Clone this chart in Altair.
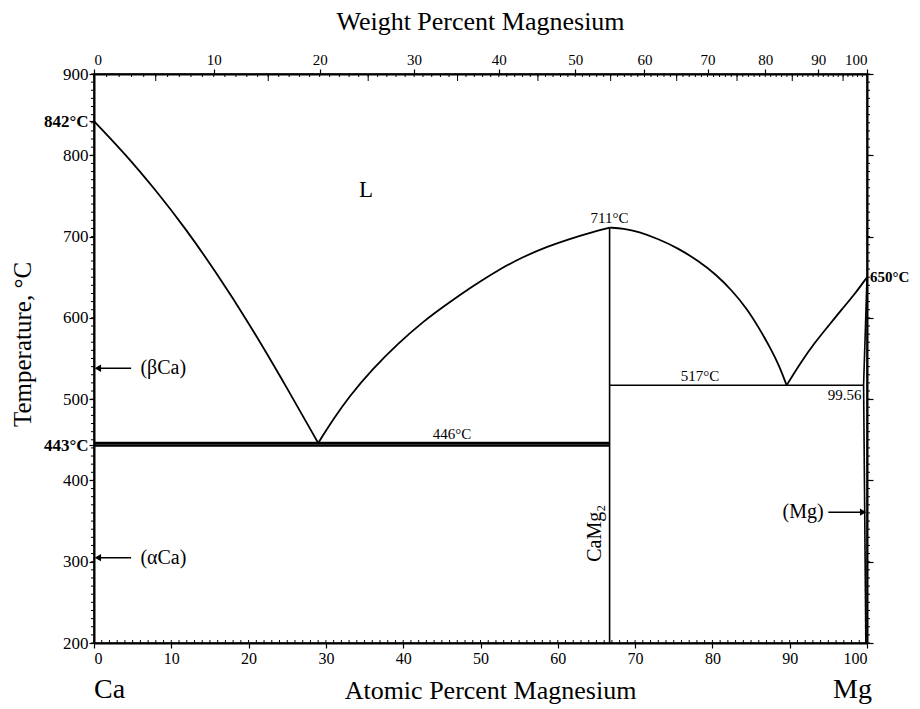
import altair as alt
import pandas as pd

FONT = "Liberation Serif"
W, H = 773, 569

# ---- liquidus branches (atomic % Mg, temperature °C) ----
liq1_a = [0, 4, 8, 12, 16, 20, 24, 29.0]
liq1_t = [842, 802, 757, 708, 653, 594, 530, 446]
liq2_a = [29.0, 31.0, 33.0, 36.0, 39.4, 42.5, 45.8, 49.0, 52.3, 55.5, 58.7, 61.5, 63.9, 66.7]
liq2_t = [446, 476, 503, 537, 569, 595, 618, 639, 659, 675, 688, 697, 704, 711]
liq3_a = [66.7, 68.5, 70.5, 73.0, 75.5, 78.2, 80.5, 82.5, 84.5, 86.0, 87.5, 88.7, 89.6]
liq3_t = [711, 710, 706, 697, 686, 670, 653, 634, 611, 588, 563, 540, 517]
liq4_a = [89.6, 91.5, 93.2, 95.0, 96.7, 98.4, 100]
liq4_t = [517, 546, 569, 590, 610, 629, 650]

# ---- straight phase boundaries: (a1, t1, a2, t2) ----
seg_a1 = [66.7, 0.0, 0.0, 66.7, 100.0, 99.56]
seg_t1 = [711, 446, 443, 517, 650, 517]
seg_a2 = [66.7, 66.7, 66.7, 99.56, 99.56, 99.85]
seg_t2 = [200, 446, 443, 517, 517, 200]
seg_w = [1.6, 2.5, 2.5, 1.6, 1.6, 1.6]

# ---- arrows: tail a, tip a, temperature ----
arr_tail = [4.8, 4.8, 95.0]
arr_tip = [0.5, 0.5, 99.5]
arr_t = [538, 305, 361]
arr_shape = ["triangle-left", "triangle-left", "triangle-right"]

# ---- labels ----
lab_text = ["L", "711°C", "517°C", "99.56", "446°C", "650°C", "CaMg\u2082",
            "(βCa)", "(αCa)", "(Mg)", "Ca", "Mg"]
lab_a = [35.2, 66.7, 78.4, 99.3, 46.3, 100, 64.8, 6.0, 6.0, 94.4, 0, 100]
lab_t = [757, 711, 517, 517, 446, 650, 335, 538, 305, 361, 200, 200]
lab_style = [
    dict(size=23),
    dict(baseline="bottom", dy=-2, size=15),
    dict(baseline="bottom", dy=-1, size=15),
    dict(align="right", baseline="top", dy=3, size=15),
    dict(baseline="bottom", dy=-1, size=15),
    dict(align="left", dx=3, size=15, weight="bold"),
    dict(angle=270, size=20),
    dict(align="left", size=20),
    dict(align="left", size=20),
    dict(align="right", size=20),
    dict(align="left", baseline="alphabetic", dy=55, size=28),
    dict(align="right", baseline="alphabetic", dx=5, dy=55, size=28),
]

# ---- axes ticks ----
at_major = list(range(0, 101, 10))
at_minor = list(range(0, 101, 1))
wt_major = list(range(0, 101, 10))
wt_mid = list(range(5, 100, 10))
wt_minor = list(range(0, 101, 1))
t_major = list(range(200, 901, 100))
t_special = [842, 443]
t_minor = list(range(200, 901, 10))

M_MG, M_CA = 24.305, 40.078


def wt_to_at(w):
    w = float(w)
    return 100.0 * (w / M_MG) / ((w / M_MG) + ((100.0 - w) / M_CA))


xs = alt.Scale(domain=[0, 100], nice=False, zero=False)
ys = alt.Scale(domain=[200, 900], nice=False, zero=False)

x_axis = alt.Axis(values=at_major, tickSize=5, labelPadding=2, labelFontSize=16,
                  title="Atomic Percent Magnesium", titleFontSize=26,
                  titleFontWeight="normal", titleX=396, titleY=55,
                  titleBaseline="alphabetic", titleAlign="center", grid=False)
y_axis = alt.Axis(values=t_major + t_special, tickSize=5, labelPadding=1,
                  labelFontSize=17,
                  labelExpr="datum.value == 842 ? '842°C' : datum.value == 443 ? '443°C' : datum.label",
                  labelFontWeight={"condition": {"test": "datum.value == 842 || datum.value == 443",
                                                 "value": "bold"}, "value": "normal"},
                  title="Temperature, °C", titleFontSize=25, titleFontWeight="normal",
                  titleX=-72, titleY=270, titleAngle=270, titleAlign="center",
                  titleBaseline="middle", grid=False)

X = alt.X("a:Q", scale=xs, axis=x_axis)
Y = alt.Y("t:Q", scale=ys, axis=y_axis)

# curves
curve_rows = []
for i, (aa, tt) in enumerate([(liq1_a, liq1_t), (liq2_a, liq2_t),
                              (liq3_a, liq3_t), (liq4_a, liq4_t)]):
    for k, (a, t) in enumerate(zip(aa, tt)):
        curve_rows.append({"seg": i, "k": k, "a": a, "t": t})
curves = alt.Chart(pd.DataFrame(curve_rows)).mark_line(
    interpolate="basis", color="black", strokeWidth=1.8
).encode(x=X, y=Y, detail="seg:N", order="k:Q")

seg_layers = []
for a1, t1, a2, t2, sw in zip(seg_a1, seg_t1, seg_a2, seg_t2, seg_w):
    seg_layers.append(
        alt.Chart(pd.DataFrame({"a": [a1], "t": [t1], "a2": [a2], "t2": [t2]})).mark_rule(
            color="black", strokeWidth=sw
        ).encode(x=X, y=Y, x2="a2:Q", y2="t2:Q")
    )

arrows_line = alt.Chart(pd.DataFrame({"a": arr_tail, "a2": arr_tip, "t": arr_t})).mark_rule(
    color="black", strokeWidth=1.5
).encode(x=X, y=Y, x2="a2:Q")

arrow_heads = []
for tip, t, shp in zip(arr_tip, arr_t, arr_shape):
    arrow_heads.append(
        alt.Chart(pd.DataFrame({"a": [tip], "t": [t]})).mark_point(
            shape=shp, filled=True, color="black", size=55, opacity=1
        ).encode(x=X, y=Y)
    )

labels = []
for txt, a, t, st in zip(lab_text, lab_a, lab_t, lab_style):
    labels.append(
        alt.Chart(pd.DataFrame({"a": [a], "t": [t], "txt": [txt]})).mark_text(
            align=st.get("align", "center"), baseline=st.get("baseline", "middle"),
            dx=st.get("dx", 0), dy=st.get("dy", 0), fontSize=st.get("size", 13),
            angle=st.get("angle", 0), font=FONT, fontWeight=st.get("weight", "normal"),
            color="black"
        ).encode(x=X, y=Y, text="txt:N")
    )

bottom_minor = alt.Chart(pd.DataFrame({"a": at_minor})).mark_rule(
    color="black", strokeWidth=1
).encode(x=X, y=alt.value(H - 3), y2=alt.value(H))

left_minor = alt.Chart(pd.DataFrame({"t": t_minor})).mark_rule(
    color="black", strokeWidth=1
).encode(y=Y, x=alt.value(-3), x2=alt.value(0))

main = alt.layer(*seg_layers, curves, arrows_line, *arrow_heads, bottom_minor,
                 left_minor, *labels)

# top weight-percent axis
top_axis = alt.Axis(orient="top", values=[wt_to_at(w) for w in wt_major], tickSize=5,
                    labelPadding=2, labelFontSize=15,
                    labelExpr="'' + round(100*datum.value*24.305/(datum.value*24.305+(100-datum.value)*40.078))",
                    title="Weight Percent Magnesium", titleFontSize=26,
                    titleFontWeight="normal", titleX=386, titleY=-45,
                    titleBaseline="alphabetic", titleAlign="center", grid=False)
XT = alt.X("a:Q", scale=xs, axis=top_axis)
top_minor = alt.Chart(pd.DataFrame({"a": [wt_to_at(w) for w in wt_minor]})).mark_rule(
    color="black", strokeWidth=1
).encode(x=XT, y=alt.value(0), y2=alt.value(3))
top_mid = alt.Chart(pd.DataFrame({"a": [wt_to_at(w) for w in wt_mid]})).mark_rule(
    color="black", strokeWidth=1
).encode(x=XT, y=alt.value(0), y2=alt.value(7))
top = alt.layer(top_minor, top_mid)

# right temperature axis (no labels)
right_axis = alt.Axis(orient="right", values=t_major, tickSize=6, labels=False,
                      title=None, grid=False)
right = alt.Chart(pd.DataFrame({"t": t_minor})).mark_rule(
    color="black", strokeWidth=1
).encode(y=alt.Y("t:Q", scale=ys, axis=right_axis), x=alt.value(W), x2=alt.value(W + 3))

chart = alt.layer(main, top, right).resolve_scale(
    x="independent", y="independent"
).properties(
    width=W, height=H,
    padding={"left": 86, "top": 66, "right": 45, "bottom": 64},
    autosize=alt.AutoSizeParams(type="none"),
    background="white",
).configure_view(
    stroke="black", strokeWidth=1.5
).configure_axis(
    labelFont=FONT, titleFont=FONT, labelColor="black", titleColor="black",
    domainColor="black", tickColor="black", domainWidth=2, tickWidth=1.2
)

chart.save("out.html", embed_options={"renderer": "svg", "actions": False})
